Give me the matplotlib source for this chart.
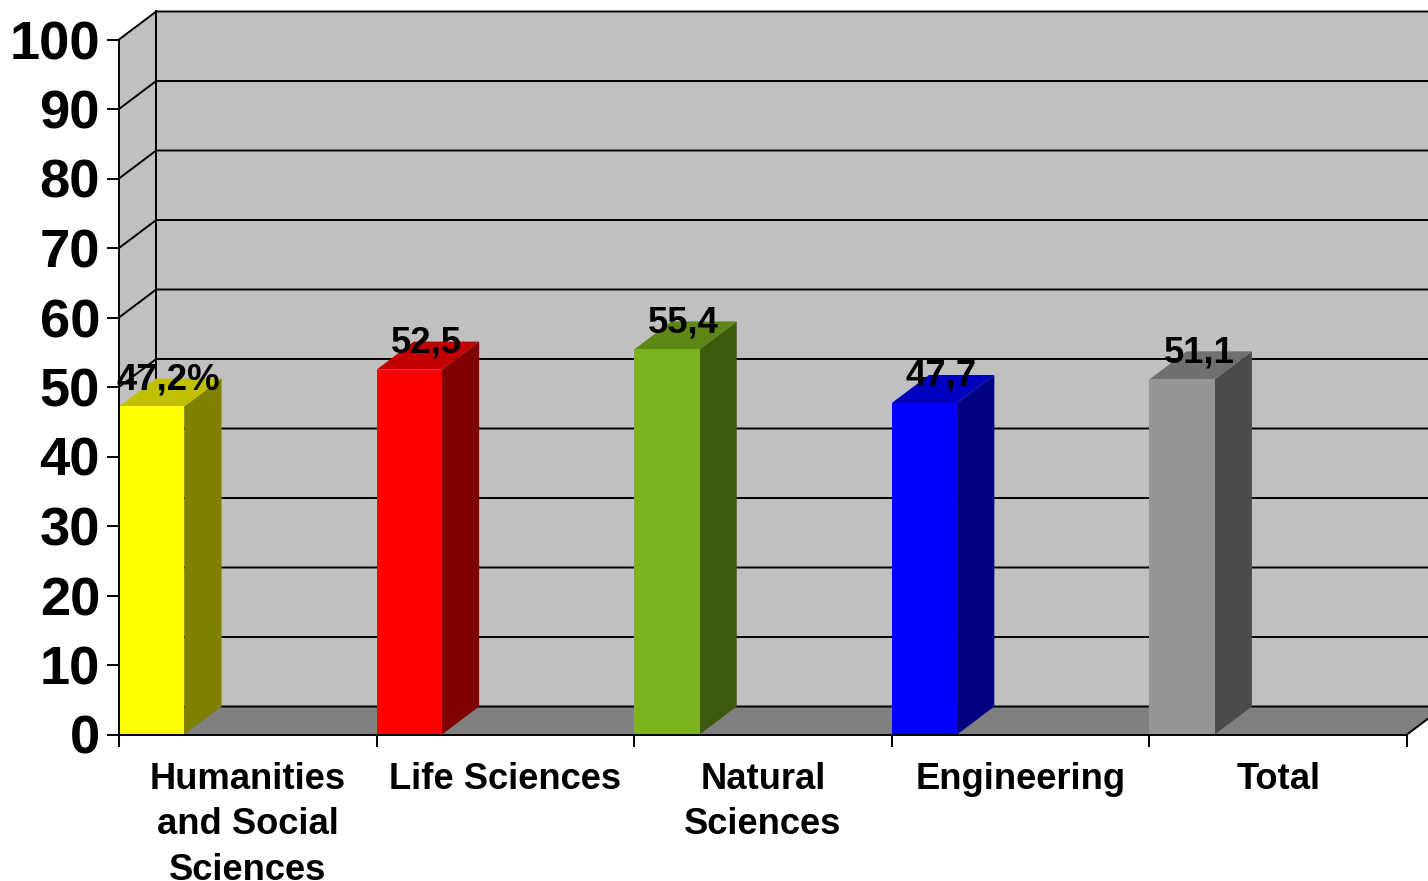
import matplotlib
matplotlib.use("Agg")
import matplotlib.pyplot as plt

plt.rcParams['font.family'] = ['Liberation Sans', 'DejaVu Sans']

categories = ["Humanities\nand Social\nSciences", "Life Sciences", "Natural\nSciences", "Engineering", "Total"]
values = [47.2, 52.5, 55.4, 47.7, 51.1]
value_labels = ["47,2%", "52,5", "55,4", "47,7", "51,1"]
y_ticks = [0, 10, 20, 30, 40, 50, 60, 70, 80, 90, 100]

front_colors = ["#ffff00", "#ff0000", "#7ab31c", "#0000ff", "#969696"]
side_colors = ["#808000", "#800000", "#3d5a0e", "#000080", "#4b4b4b"]
top_colors = ["#c0c000", "#c00000", "#5c8615", "#0000c0", "#707070"]

WALL = "#c0c0c0"
FLOOR = "#808080"
BAR_W = 0.2535
# oblique offset of the back plane, in data units
DX = 0.1445
DY = 4.03
GRID_LW = 1.4


def draw_walls(ax):
    n = len(categories)
    top = y_ticks[-1]
    ax.fill([DX, n + DX, n + DX, DX], [DY, DY, top + DY, top + DY], color=WALL, lw=0, clip_on=False, zorder=1)
    ax.fill([0, DX, DX, 0], [0, DY, top + DY, top], color=WALL, lw=0, clip_on=False, zorder=1)
    ax.fill([0, n, n + DX, DX], [0, 0, DY, DY], color=FLOOR, lw=0, clip_on=False, zorder=1)

    for t in y_ticks:
        ax.plot([0, DX, n + DX], [t, t + DY, t + DY], color="black", lw=GRID_LW, clip_on=False, zorder=2)
    ax.plot([DX, DX], [DY, top + DY], color="black", lw=GRID_LW, clip_on=False, zorder=2)
    ax.plot([n, n + DX], [0, DY], color="black", lw=GRID_LW, clip_on=False, zorder=2)


def draw_bars(ax):
    for i, v in enumerate(values):
        x0, x1 = i, i + BAR_W
        ax.fill([x1, x1 + DX, x1 + DX, x1], [0, DY, v + DY, v], color=side_colors[i], lw=0, clip_on=False, zorder=3)
        ax.fill([x0, x1, x1 + DX, x0 + DX], [v, v, v + DY, v + DY], color=top_colors[i], lw=0, clip_on=False, zorder=3)
        ax.fill([x0, x1, x1, x0], [0, 0, v, v], color=front_colors[i], lw=0, clip_on=False, zorder=3)
        ax.text(i + 0.1925, v + 3.85, value_labels[i], ha="center", va="center",
                fontsize=26.3, fontweight="bold", color="black", zorder=6)


def main():
    fig = plt.figure(figsize=(14.28, 8.81), dpi=100)
    ax = fig.add_axes([119 / 1428, (881 - 734.5) / 881, 1288 / 1428, 695 / 881])
    ax.set_xlim(0, len(categories))
    ax.set_ylim(0, 100)
    ax.patch.set_visible(False)

    draw_walls(ax)
    draw_bars(ax)

    ax.spines["top"].set_visible(False)
    ax.spines["right"].set_visible(False)
    ax.spines["left"].set_linewidth(GRID_LW)
    ax.spines["bottom"].set_linewidth(GRID_LW)
    ax.spines["left"].set_zorder(5)
    ax.spines["bottom"].set_zorder(5)

    ax.set_yticks(y_ticks)
    ax.tick_params(axis="y", length=8.6, width=GRID_LW, pad=5, labelsize=39.2)
    for label in ax.get_yticklabels():
        label.set_fontweight("bold")

    # boundaries get the tick marks, category names sit between them
    ax.set_xticks(range(len(categories) + 1))
    ax.set_xticklabels([])
    ax.set_xticks([i + 0.5 for i in range(len(categories))], minor=True)
    ax.set_xticklabels(categories, minor=True, fontsize=26.2, fontweight="bold", linespacing=1.4)
    ax.tick_params(axis="x", which="major", length=8.6, width=GRID_LW)
    ax.tick_params(axis="x", which="minor", length=0, pad=19.5)

    fig.savefig("out.png", dpi=100)


if __name__ == "__main__":
    main()
